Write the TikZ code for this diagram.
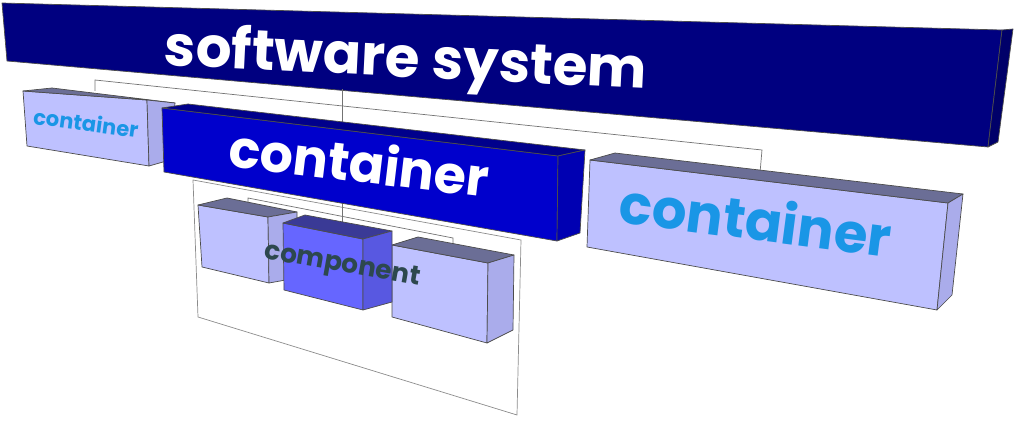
\documentclass[tikz,border=0pt]{standalone}
\usepackage{fontspec}
\setmainfont{Poppins}

\definecolor{sysfront}{RGB}{0,0,128}
\definecolor{sysside}{RGB}{0,0,105}
\definecolor{confront}{RGB}{0,0,204}
\definecolor{contop}{RGB}{0,0,140}
\definecolor{conside}{RGB}{0,0,178}
\definecolor{paleFront}{RGB}{190,193,255}
\definecolor{paleTop}{RGB}{107,110,150}
\definecolor{paleSide}{RGB}{170,172,235}
\definecolor{compfront}{RGB}{102,102,255}
\definecolor{comptop}{RGB}{58,58,150}
\definecolor{compside}{RGB}{88,88,225}
\definecolor{textblue}{RGB}{26,150,230}
\definecolor{textslate}{RGB}{45,72,78}

\begin{document}
\begin{tikzpicture}[x=0.02cm, y=-0.02cm,
  face/.style={draw=black!70, line width=0.4pt, line join=round},
  link/.style={draw=black!55, line width=0.4pt},
  boxlabel/.style={font=\bfseries, inner sep=0pt, anchor=base}]
\useasboundingbox (0,0) rectangle (1019,422);

%software system bar
\filldraw[face, fill=sysfront] (2,3) -- (1002,30) -- (988,147) -- (7,61) -- cycle;
\filldraw[face, fill=sysside] (1002,30) -- (1013,29) -- (998,142) -- (988,147) -- cycle;
\node[boxlabel, white, rotate=-2.8, font=\bfseries\fontsize{32}{32}\selectfont] (system) at (405,77) {software system};

%links system -> containers
\coordinate (sysdrop) at (342,89);
\coordinate (sysleft) at (95,80);
\coordinate (sysright) at (762,150);
\coordinate (conA) at (95,91);
\coordinate (conB) at (342,122);
\coordinate (conC) at (760,173);
\draw[link] (sysdrop) -- (conB);
\draw[link] (conA) -- (sysleft) -- (sysright) -- (conC);

%left container
\filldraw[face, fill=paleFront] (23,91) -- (147,100) -- (149,166) -- (27,146) -- cycle;
\filldraw[face, fill=paleTop] (23,91) -- (52,88) -- (175,103) -- (147,100) -- cycle;
\filldraw[face, fill=paleSide] (147,100) -- (175,103) -- (170,160) -- (149,166) -- cycle;
\node[boxlabel, textblue, rotate=-7.5, font=\bfseries\fontsize{12}{12}\selectfont] (smallcon) at (85,131) {container};

%right container
\filldraw[face, fill=paleFront] (590,160) -- (948,203) -- (937,310) -- (587,247) -- cycle;
\filldraw[face, fill=paleTop] (590,160) -- (615,153) -- (963,194) -- (948,203) -- cycle;
\filldraw[face, fill=paleSide] (948,203) -- (963,194) -- (952,295) -- (937,310) -- cycle;
\node[boxlabel, textblue, rotate=-7.4, font=\bfseries\fontsize{31}{31}\selectfont] (rightcon) at (753,240) {container};

%inside of the middle container
\draw[draw=black!45, line width=0.4pt] (193,180) -- (521,240) -- (517,415) -- (198,317) -- cycle;

%links container -> components
\coordinate (condrop) at (342,203);
\coordinate (conleft) at (248,198);
\coordinate (conright) at (453,238);
\coordinate (compA) at (248,213);
\coordinate (compB) at (342,233);
\coordinate (compC) at (453,250);
\draw[link] (condrop) -- (compB);
\draw[link] (compA) -- (conleft) -- (conright) -- (compC);

%components
\filldraw[face, fill=paleFront] (198,205) -- (268,217) -- (269,283) -- (202,267) -- cycle;
\filldraw[face, fill=paleTop] (198,205) -- (227,198) -- (297,212) -- (268,217) -- cycle;
\filldraw[face, fill=paleSide] (268,217) -- (297,212) -- (297,278) -- (269,283) -- cycle;

\filldraw[face, fill=paleFront] (392,245) -- (488,263) -- (487,343) -- (392,317) -- cycle;
\filldraw[face, fill=paleTop] (392,245) -- (418,237) -- (514,255) -- (488,263) -- cycle;
\filldraw[face, fill=paleSide] (488,263) -- (514,255) -- (513,330) -- (487,343) -- cycle;

\filldraw[face, fill=compfront] (283,223) -- (363,239) -- (363,310) -- (284,290) -- cycle;
\filldraw[face, fill=comptop] (283,223) -- (305,215) -- (392,231) -- (363,239) -- cycle;
\filldraw[face, fill=compside] (363,239) -- (392,231) -- (392,302) -- (363,310) -- cycle;
\node[boxlabel, textslate, rotate=-10, font=\bfseries\fontsize{15}{15}\selectfont] (comp) at (341,272) {component};

%middle container
\filldraw[face, fill=confront] (162,108) -- (558,156) -- (557,241) -- (164,172) -- cycle;
\filldraw[face, fill=contop] (162,108) -- (188,104) -- (585,150) -- (558,156) -- cycle;
\filldraw[face, fill=conside] (558,156) -- (585,150) -- (580,233) -- (557,241) -- cycle;
\node[boxlabel, white, rotate=-6.8, font=\bfseries\fontsize{29.7}{30}\selectfont] (midcon) at (357,182) {container};
\end{tikzpicture}
\end{document}
